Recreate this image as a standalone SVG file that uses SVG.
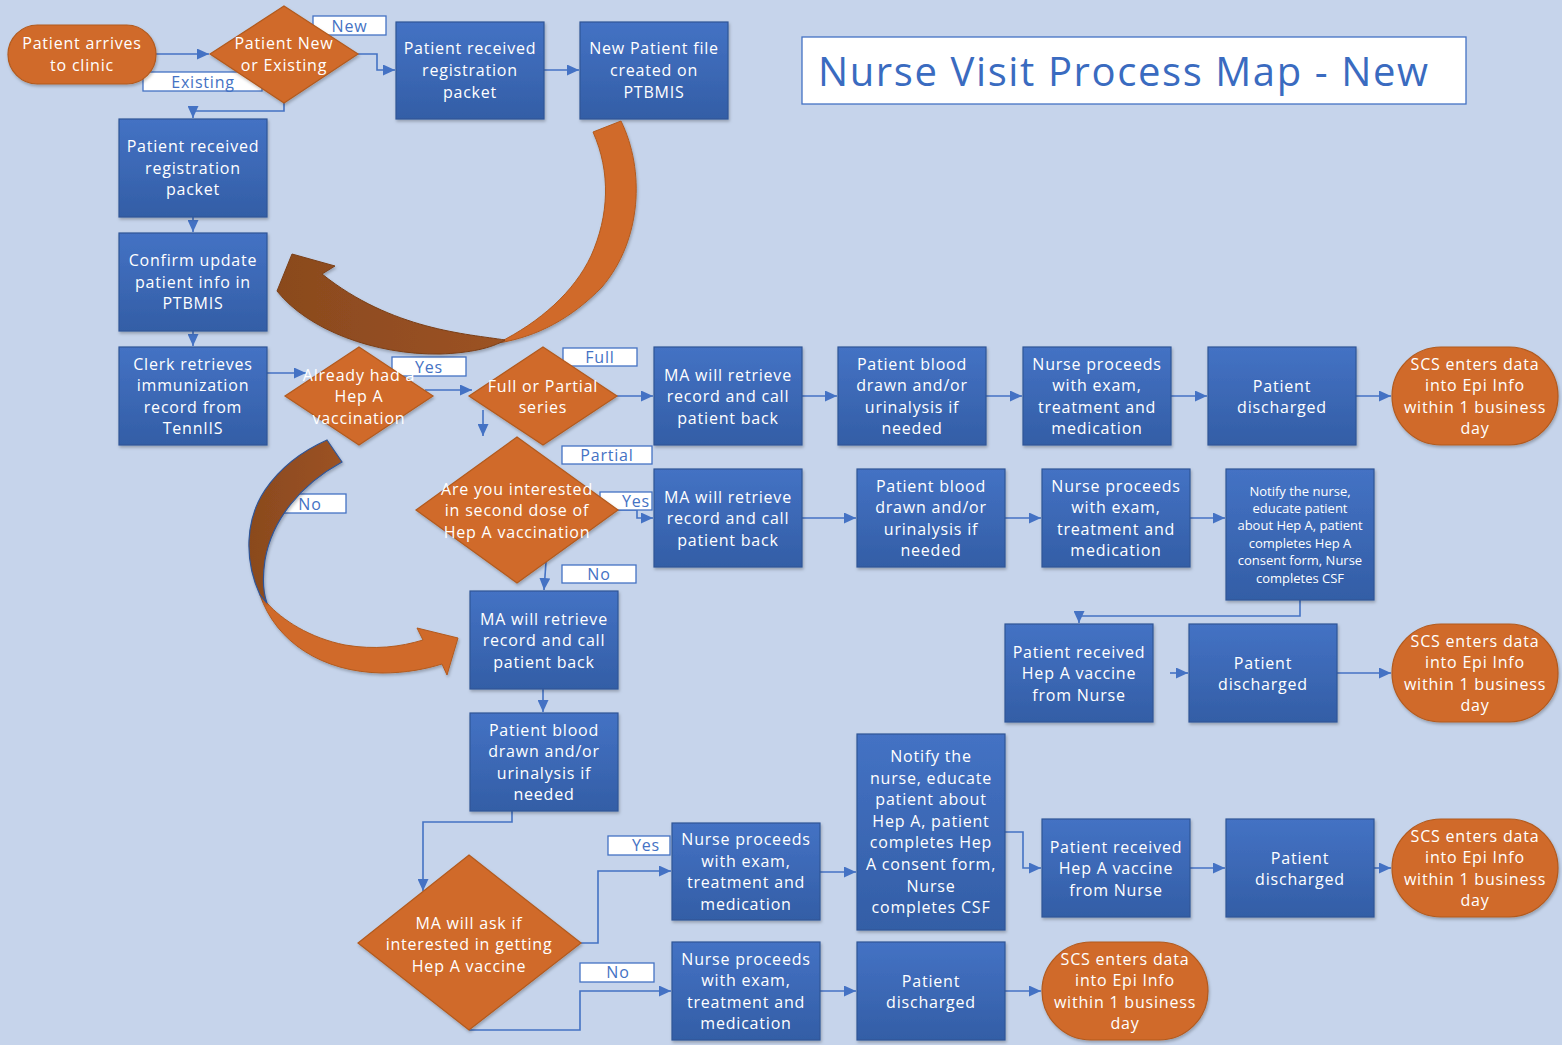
<svg xmlns="http://www.w3.org/2000/svg" width="1562" height="1045" viewBox="0 0 1562 1045">
<defs>
<linearGradient id="gb" x1="0" y1="0" x2="0" y2="1"><stop offset="0" stop-color="#4472C4"/><stop offset="1" stop-color="#335EA6"/></linearGradient>
<linearGradient id="gbr" x1="0" y1="0" x2="1" y2="0"><stop offset="0" stop-color="#8A4A1E"/><stop offset="1" stop-color="#9C5224"/></linearGradient>
<filter id="sh" x="-10%" y="-10%" width="130%" height="130%"><feDropShadow dx="1" dy="2" stdDeviation="1.5" flood-color="#000" flood-opacity="0.25"/></filter>
<marker id="ah" markerUnits="userSpaceOnUse" markerWidth="13" markerHeight="11" refX="12" refY="5.5" orient="auto"><path d="M0,0 L12,5.5 L0,11 Z" fill="#4472C4"/></marker>
<style>
.bx{fill:url(#gb);stroke:#2F5597;stroke-width:1.2;filter:url(#sh)}
.or{fill:#D06A2A;stroke:#B25A1E;stroke-width:1.2;filter:url(#sh)}
.t{font-family:"Open Sans","Liberation Sans",sans-serif;font-size:16px;letter-spacing:0.8px;fill:#fff;text-anchor:middle}
.ts{font-family:"Open Sans","Liberation Sans",sans-serif;font-size:13px;fill:#fff;text-anchor:middle}
.lb{fill:#fff;stroke:#4472C4;stroke-width:1.3}
.lt{font-family:"Open Sans","Liberation Sans",sans-serif;font-size:16px;letter-spacing:0.8px;fill:#4472C4;text-anchor:middle}
.cn{fill:none;stroke:#4472C4;stroke-width:1.6;marker-end:url(#ah)}
</style>
</defs>
<rect width="1562" height="1045" fill="#C6D4EB"/>

<g id="title"><rect x="802" y="37" width="664" height="67" fill="#fff" stroke="#4472C4" stroke-width="1.3"/><text x="818" y="86" font-family="'Open Sans','Liberation Sans',sans-serif" font-size="40" fill="#3A6BC0" textLength="610">Nurse Visit Process Map - New</text></g>

<g id="connectors">
<path class="cn" d="M156,54 H209"/>
<path class="cn" d="M358,54 H377 V70 H395"/>
<path class="cn" d="M284,103 V111 H193 V118"/>
<path class="cn" d="M544,70 H579"/>
<path class="cn" d="M193,217 V232"/>
<path class="cn" d="M193,331 V346"/>
<path class="cn" d="M267,373 H306"/>
<path class="cn" d="M425,390 H472"/>
<path class="cn" d="M617,396 H653"/>
<path class="cn" d="M483,410 V436"/>
<path class="cn" d="M802,396 H837"/>
<path class="cn" d="M986,396 H1022"/>
<path class="cn" d="M1171,396 H1207"/>
<path class="cn" d="M1356,396 H1391"/>
<path class="cn" d="M618,510 H637 V518 H653"/>
<path class="cn" d="M546,562 L544,590"/>
<path class="cn" d="M802,518 H856"/>
<path class="cn" d="M1005,518 H1041"/>
<path class="cn" d="M1190,518 H1225"/>
<path class="cn" d="M1300,600 V616 H1079 V623"/>
<path class="cn" d="M1170,673 H1188"/>
<path class="cn" d="M1337,673 H1391"/>
<path class="cn" d="M543,689 V712"/>
<path class="cn" d="M512,811 V822 H423 V891"/>
<path class="cn" d="M581,943 H598 V871 H671"/>
<path class="cn" d="M469,1030 H580 V991 H671"/>
<path class="cn" d="M820,872 H856"/>
<path class="cn" d="M1005,832 H1023 V868 H1041"/>
<path class="cn" d="M1190,868 H1225"/>
<path class="cn" d="M1374,868 H1391"/>
<path class="cn" d="M820,991 H856"/>
<path class="cn" d="M1005,991 H1041"/>
</g>

<g id="labels">
<rect class="lb" x="313" y="16" width="73" height="19"/><text class="lt" x="349.5" y="31.5">New</text>
<rect class="lb" x="143" y="72" width="119" height="19"/><text class="lt" x="203" y="87.5">Existing</text>
<rect class="lb" x="392" y="357" width="74" height="19"/><text class="lt" x="429" y="372.5">Yes</text>
<rect class="lb" x="563" y="348" width="74" height="18"/><text class="lt" x="600" y="363">Full</text>
<rect class="lb" x="562" y="446" width="90" height="18"/><text class="lt" x="607" y="461">Partial</text>
<rect class="lb" x="600" y="492" width="52" height="18"/><text class="lt" x="636" y="507">Yes</text>
<rect class="lb" x="562" y="565" width="74" height="18"/><text class="lt" x="599" y="580">No</text>
<rect class="lb" x="283" y="494" width="63" height="19"/><text class="lt" x="310" y="509.5">No</text>
<rect class="lb" x="608" y="836" width="62" height="19"/><text class="lt" x="646" y="851" font-size="14">Yes</text>
<rect class="lb" x="580" y="963" width="74" height="19"/><text class="lt" x="618" y="978" font-size="14">No</text>
</g>

<g id="n-arrive"><rect class="or" x="8" y="25" width="148" height="59" rx="29.5"/><text class="t" x="82" y="49"><tspan x="82">Patient arrives</tspan><tspan x="82" dy="21.6">to clinic</tspan></text></g>
<g id="n-newexist"><polygon class="or" points="284,6 358,54 284,103 210,54"/><text class="t" x="284" y="49"><tspan x="284">Patient New</tspan><tspan x="284" dy="21.6">or Existing</tspan></text></g>
<g id="n-reg1"><rect class="bx" x="396" y="22" width="148" height="97"/><text class="t" y="54.4"><tspan x="470">Patient received</tspan><tspan x="470" dy="21.6">registration</tspan><tspan x="470" dy="21.6">packet</tspan></text></g>
<g id="n-newfile"><rect class="bx" x="580" y="22" width="148" height="97"/><text class="t" y="54.4"><tspan x="654">New Patient file</tspan><tspan x="654" dy="21.6">created on</tspan><tspan x="654" dy="21.6">PTBMIS</tspan></text></g>
<g id="n-reg2"><rect class="bx" x="119" y="119" width="148" height="98"/><text class="t" y="152"><tspan x="193">Patient received</tspan><tspan x="193" dy="21.6">registration</tspan><tspan x="193" dy="21.6">packet</tspan></text></g>
<g id="n-confirm"><rect class="bx" x="119" y="233" width="148" height="98"/><text class="t" y="266"><tspan x="193">Confirm update</tspan><tspan x="193" dy="21.6">patient info in</tspan><tspan x="193" dy="21.6">PTBMIS</tspan></text></g>
<g id="n-clerk"><rect class="bx" x="119" y="347" width="148" height="98"/><text class="t" y="369.5"><tspan x="193">Clerk retrieves</tspan><tspan x="193" dy="21.6">immunization</tspan><tspan x="193" dy="21.6">record from</tspan><tspan x="193" dy="21.6">TennIIS</tspan></text></g>
<g id="n-already"><polygon class="or" points="359,347 433,396 359,445 285,396"/><text class="t" y="380.5"><tspan x="359">Already had a</tspan><tspan x="359" dy="21.6">Hep A</tspan><tspan x="359" dy="21.6">vaccination</tspan></text></g>
<g id="n-fullpartial"><polygon class="or" points="543,347 617,396 543,445 469,396"/><text class="t" y="391.5"><tspan x="543">Full or Partial</tspan><tspan x="543" dy="21.6">series</tspan></text></g>
<g id="n-ma1"><rect class="bx" x="654" y="347" width="148" height="98"/><text class="t" y="380.5"><tspan x="728">MA will retrieve</tspan><tspan x="728" dy="21.6">record and call</tspan><tspan x="728" dy="21.6">patient back</tspan></text></g>
<g id="n-blood1"><rect class="bx" x="838" y="347" width="148" height="98"/><text class="t" y="369.5"><tspan x="912">Patient blood</tspan><tspan x="912" dy="21.6">drawn and/or</tspan><tspan x="912" dy="21.6">urinalysis if</tspan><tspan x="912" dy="21.6">needed</tspan></text></g>
<g id="n-nurse1"><rect class="bx" x="1023" y="347" width="148" height="98"/><text class="t" y="369.5"><tspan x="1097">Nurse proceeds</tspan><tspan x="1097" dy="21.6">with exam,</tspan><tspan x="1097" dy="21.6">treatment and</tspan><tspan x="1097" dy="21.6">medication</tspan></text></g>
<g id="n-dis1"><rect class="bx" x="1208" y="347" width="148" height="98"/><text class="t" y="391.5"><tspan x="1282">Patient</tspan><tspan x="1282" dy="21.6">discharged</tspan></text></g>
<g id="n-scs1"><rect class="or" x="1392" y="347" width="166" height="98" rx="49"/><text class="t" y="369.5"><tspan x="1475">SCS enters data</tspan><tspan x="1475" dy="21.6">into Epi Info</tspan><tspan x="1475" dy="21.6">within 1 business</tspan><tspan x="1475" dy="21.6">day</tspan></text></g>
<g id="n-second"><polygon class="or" points="517,437 618,510 517,583 416,510"/><text class="t" y="494.5"><tspan x="517">Are you interested</tspan><tspan x="517" dy="21.6">in second dose of</tspan><tspan x="517" dy="21.6">Hep A vaccination</tspan></text></g>
<g id="n-ma2"><rect class="bx" x="654" y="469" width="148" height="98"/><text class="t" y="502.5"><tspan x="728">MA will retrieve</tspan><tspan x="728" dy="21.6">record and call</tspan><tspan x="728" dy="21.6">patient back</tspan></text></g>
<g id="n-blood2"><rect class="bx" x="857" y="469" width="148" height="98"/><text class="t" y="491.5"><tspan x="931">Patient blood</tspan><tspan x="931" dy="21.6">drawn and/or</tspan><tspan x="931" dy="21.6">urinalysis if</tspan><tspan x="931" dy="21.6">needed</tspan></text></g>
<g id="n-nurse2"><rect class="bx" x="1042" y="469" width="148" height="98"/><text class="t" y="491.5"><tspan x="1116">Nurse proceeds</tspan><tspan x="1116" dy="21.6">with exam,</tspan><tspan x="1116" dy="21.6">treatment and</tspan><tspan x="1116" dy="21.6">medication</tspan></text></g>
<g id="n-notify1"><rect class="bx" x="1226" y="469" width="148" height="131"/><text class="ts" y="495.5"><tspan x="1300">Notify the nurse,</tspan><tspan x="1300" dy="17.4">educate patient</tspan><tspan x="1300" dy="17.4">about Hep A, patient</tspan><tspan x="1300" dy="17.4">completes Hep A</tspan><tspan x="1300" dy="17.4">consent form, Nurse</tspan><tspan x="1300" dy="17.4">completes CSF</tspan></text></g>
<g id="n-hepa1"><rect class="bx" x="1005" y="624" width="148" height="98"/><text class="t" y="657.5"><tspan x="1079">Patient received</tspan><tspan x="1079" dy="21.6">Hep A vaccine</tspan><tspan x="1079" dy="21.6">from Nurse</tspan></text></g>
<g id="n-dis2"><rect class="bx" x="1189" y="624" width="148" height="98"/><text class="t" y="668.5"><tspan x="1263">Patient</tspan><tspan x="1263" dy="21.6">discharged</tspan></text></g>
<g id="n-scs2"><rect class="or" x="1392" y="624" width="166" height="98" rx="49"/><text class="t" y="646.5"><tspan x="1475">SCS enters data</tspan><tspan x="1475" dy="21.6">into Epi Info</tspan><tspan x="1475" dy="21.6">within 1 business</tspan><tspan x="1475" dy="21.6">day</tspan></text></g>
<g id="n-ma3"><rect class="bx" x="470" y="591" width="148" height="98"/><text class="t" y="624.5"><tspan x="544">MA will retrieve</tspan><tspan x="544" dy="21.6">record and call</tspan><tspan x="544" dy="21.6">patient back</tspan></text></g>
<g id="n-blood3"><rect class="bx" x="470" y="713" width="148" height="98"/><text class="t" y="735.5"><tspan x="544">Patient blood</tspan><tspan x="544" dy="21.6">drawn and/or</tspan><tspan x="544" dy="21.6">urinalysis if</tspan><tspan x="544" dy="21.6">needed</tspan></text></g>
<g id="n-ask"><polygon class="or" points="469,855 581,943 469,1030 358,943"/><text class="t" y="928.5"><tspan x="469">MA will ask if</tspan><tspan x="469" dy="21.6">interested in getting</tspan><tspan x="469" dy="21.6">Hep A vaccine</tspan></text></g>
<g id="n-nurse3"><rect class="bx" x="672" y="823" width="148" height="97"/><text class="t" y="845"><tspan x="746">Nurse proceeds</tspan><tspan x="746" dy="21.6">with exam,</tspan><tspan x="746" dy="21.6">treatment and</tspan><tspan x="746" dy="21.6">medication</tspan></text></g>
<g id="n-notify2"><rect class="bx" x="857" y="734" width="148" height="196"/><text class="t" y="762"><tspan x="931">Notify the</tspan><tspan x="931" dy="21.6">nurse, educate</tspan><tspan x="931" dy="21.6">patient about</tspan><tspan x="931" dy="21.6">Hep A, patient</tspan><tspan x="931" dy="21.6">completes Hep</tspan><tspan x="931" dy="21.6">A consent form,</tspan><tspan x="931" dy="21.6">Nurse</tspan><tspan x="931" dy="21.6">completes CSF</tspan></text></g>
<g id="n-hepa2"><rect class="bx" x="1042" y="819" width="148" height="98"/><text class="t" y="852.5"><tspan x="1116">Patient received</tspan><tspan x="1116" dy="21.6">Hep A vaccine</tspan><tspan x="1116" dy="21.6">from Nurse</tspan></text></g>
<g id="n-dis3"><rect class="bx" x="1226" y="819" width="148" height="98"/><text class="t" y="863.5"><tspan x="1300">Patient</tspan><tspan x="1300" dy="21.6">discharged</tspan></text></g>
<g id="n-scs3"><rect class="or" x="1392" y="819" width="166" height="98" rx="49"/><text class="t" y="841.5"><tspan x="1475">SCS enters data</tspan><tspan x="1475" dy="21.6">into Epi Info</tspan><tspan x="1475" dy="21.6">within 1 business</tspan><tspan x="1475" dy="21.6">day</tspan></text></g>
<g id="n-nurse4"><rect class="bx" x="672" y="942" width="148" height="98"/><text class="t" y="964.5"><tspan x="746">Nurse proceeds</tspan><tspan x="746" dy="21.6">with exam,</tspan><tspan x="746" dy="21.6">treatment and</tspan><tspan x="746" dy="21.6">medication</tspan></text></g>
<g id="n-dis4"><rect class="bx" x="857" y="942" width="148" height="98"/><text class="t" y="986.5"><tspan x="931">Patient</tspan><tspan x="931" dy="21.6">discharged</tspan></text></g>
<g id="n-scs4"><rect class="or" x="1042" y="942" width="166" height="98" rx="49"/><text class="t" y="964.5"><tspan x="1125">SCS enters data</tspan><tspan x="1125" dy="21.6">into Epi Info</tspan><tspan x="1125" dy="21.6">within 1 business</tspan><tspan x="1125" dy="21.6">day</tspan></text></g>

<g id="curved-arrows">
<path d="M593,132 L621,121 C645,170 642,240 602,287 C572,318 537,337 498,343 C540,322 574,292 591,256 C609,216 611,172 593,132 Z" fill="#D06A2A" stroke="#B25A1E" stroke-width="1" filter="url(#sh)"/>
<path d="M505,340 C468,334 392,330 322,274 L335,266 L292,254 L277,291 C308,330 375,355 440,354 C470,353 492,348 505,340 Z" fill="url(#gbr)" stroke="#7A3F18" stroke-width="1" filter="url(#sh)"/>
<path d="M260,595 C276,642 322,672 382,673 C406,673 426,669 442,664 L447,675 L458,638 L417,628 L423,640 C400,647 375,650 345,645 C310,638 282,620 267,603 Z" fill="#D06A2A" stroke="#B25A1E" stroke-width="1" filter="url(#sh)"/>
<path d="M327,440 L342,462 C300,485 272,520 265,560 C262,580 264,595 267,603 L260,595 C244,560 245,520 265,490 C280,468 300,452 327,440 Z" fill="url(#gbr)" stroke="#2F5597" stroke-width="1.2" filter="url(#sh)"/>
</g>
</svg>
